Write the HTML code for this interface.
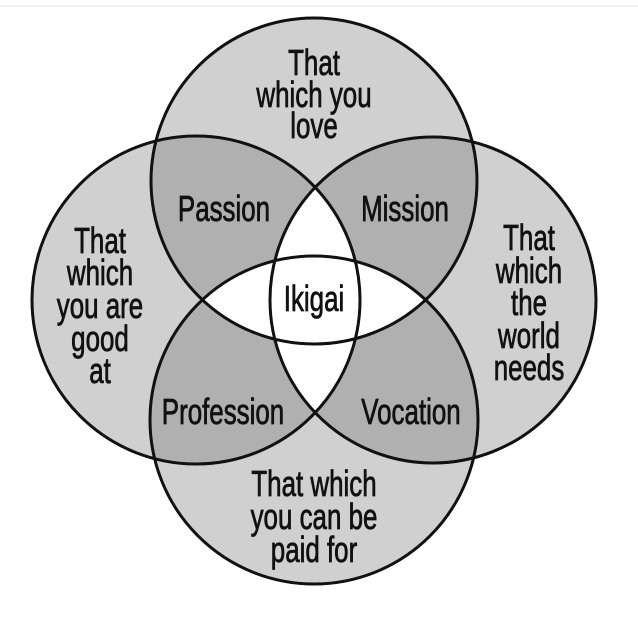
<!DOCTYPE html>
<html><head><style>html,body{margin:0;padding:0;background:#fff;width:638px;height:626px;overflow:hidden}</style></head>
<body>
<svg width="638" height="626" viewBox="0 0 638 626" xmlns="http://www.w3.org/2000/svg">
<defs>
<clipPath id="cT"><circle cx="314" cy="181" r="163"/></clipPath>
<clipPath id="cB"><circle cx="314" cy="420" r="164"/></clipPath>
<clipPath id="cL"><circle cx="196" cy="300" r="164"/></clipPath>
<clipPath id="cR"><circle cx="433" cy="300" r="163"/></clipPath>
</defs>
<line x1="0" y1="6" x2="638" y2="6" stroke="#e6e6e6" stroke-width="1"/>
<g fill="#d0d0d0">
<circle cx="314" cy="181" r="163"/><circle cx="314" cy="420" r="164"/>
<circle cx="196" cy="300" r="164"/><circle cx="433" cy="300" r="163"/>
</g>
<g fill="#b0b0b0">
<circle cx="196" cy="300" r="164" clip-path="url(#cT)"/>
<circle cx="433" cy="300" r="163" clip-path="url(#cT)"/>
<circle cx="196" cy="300" r="164" clip-path="url(#cB)"/>
<circle cx="433" cy="300" r="163" clip-path="url(#cB)"/>
</g>
<g fill="#fff">
<circle cx="314" cy="420" r="164" clip-path="url(#cT)"/>
<circle cx="433" cy="300" r="163" clip-path="url(#cL)"/>
</g>
<g fill="none" stroke="#111" stroke-width="3">
<circle cx="314" cy="181" r="163"/><circle cx="314" cy="420" r="164"/>
<circle cx="196" cy="300" r="164"/><circle cx="433" cy="300" r="163"/>
</g>
<g font-family="Liberation Sans, sans-serif" font-size="36" fill="#111" stroke="#111" stroke-width="0.8" text-anchor="middle">
<text transform="translate(314,75) scale(0.72,1)">That</text>
<text transform="translate(314,107) scale(0.72,1)">which you</text>
<text transform="translate(314,138) scale(0.72,1)">love</text>
<text transform="translate(224,221) scale(0.72,1)">Passion</text>
<text transform="translate(405,221) scale(0.72,1)">Mission</text>
<text transform="translate(314,311) scale(0.72,1)">Ikigai</text>
<text transform="translate(223,424) scale(0.72,1)">Profession</text>
<text transform="translate(411,424) scale(0.72,1)">Vocation</text>
<text transform="translate(100,253) scale(0.72,1)">That</text>
<text transform="translate(100,285) scale(0.72,1)">which</text>
<text transform="translate(100,318) scale(0.72,1)">you are</text>
<text transform="translate(100,351) scale(0.72,1)">good</text>
<text transform="translate(100,383) scale(0.72,1)">at</text>
<text transform="translate(529,250) scale(0.72,1)">That</text>
<text transform="translate(529,283) scale(0.72,1)">which</text>
<text transform="translate(529,315) scale(0.72,1)">the</text>
<text transform="translate(529,348) scale(0.72,1)">world</text>
<text transform="translate(529,380) scale(0.72,1)">needs</text>
<text transform="translate(314,496) scale(0.72,1)">That which</text>
<text transform="translate(314,529) scale(0.72,1)">you can be</text>
<text transform="translate(314,562) scale(0.72,1)">paid for</text>
</g>
</svg>
</body></html>
